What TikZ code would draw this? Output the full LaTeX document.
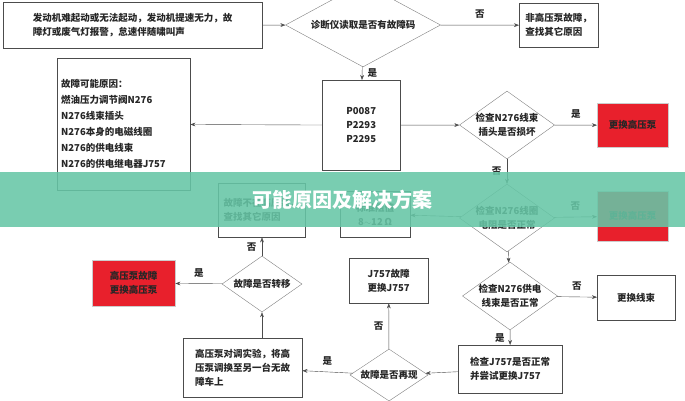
\documentclass[tikz,border=0pt]{standalone}
\usepackage{fontspec}
\setmainfont{Noto Sans CJK SC}
\usetikzlibrary{shapes.geometric,arrows.meta}
\definecolor{alarmred}{RGB}{232,32,44}
\definecolor{banner}{RGB}{102,198,166}
\tikzset{
  every node/.style={font=\fontsize{9.5}{14}\selectfont\bfseries, text=black!85},
  box/.style={draw=black!70, fill=white, align=left, inner sep=3pt},
  redbox/.style={fill=alarmred, align=center, draw=black!20},
  check/.style={diamond, draw=black!50, fill=white, aspect=1.4, inner sep=0pt, align=center},
  flow/.style={draw=black!70, -{Stealth[length=5pt]}},
  tag/.style={font=\fontsize{9.5}{10}\selectfont\bfseries}
}
\begin{document}
\begin{tikzpicture}[x=1pt,y=-1pt]
  \useasboundingbox (0,0) rectangle (685,400);
  % top row
  \node[box, minimum width=259, minimum height=46, anchor=north west] (start) at (3,2)
    {发动机难起动或无法起动，发动机提速无力，故\\障灯或废气灯报警，怠速伴随啸叫声};
  \node[check, minimum width=155, minimum height=46] (read) at (363,25) {诊断仪读取是否有故障码};
  \node[box, minimum width=79, minimum height=44, anchor=north west] (other) at (519,3)
    {非高压泵故障，\\查找其它原因};
  % codes
  \node[box, align=center, minimum width=78, minimum height=90, anchor=north west] (codes) at (322,80)
    {P0087\\P2293\\P2295};
  \node[box, minimum width=133, minimum height=132, anchor=north west, text width=125, inner sep=4pt,
    font=\fontsize{9.5}{16}\selectfont\bfseries] (cause) at (57,58)
    {故障可能原因：\\燃油压力调节阀N276\\N276线束插头\\N276本身的电磁线圈\\N276的供电线束\\N276的供电继电器J757};
  % right column
  \node[check, minimum width=80, minimum height=64] (plug) at (507,125) {检查N276线束\\插头是否损坏};
  \node[redbox, minimum width=71, minimum height=44, anchor=north west] (pump1) at (597,103) {更换高压泵};
  \node[check, minimum width=80, minimum height=64] (coil) at (507,218) {检查N276线圈\\电阻是否正常};
  \node[redbox, minimum width=71, minimum height=50, anchor=north west] (pump2) at (597,191) {更换高压泵};
  \node[box, align=center, minimum width=70, minimum height=46, anchor=north west] (ohm) at (340,191) {标准阻值\\8$\sim$12\,Ω};
  \node[check, minimum width=80, minimum height=68] (wire) at (510,296) {检查N276供电\\线束是否正常};
  \node[box, align=center, minimum width=78, minimum height=45, anchor=north west] (harness) at (597,275) {更换线束};
  \node[box, minimum width=104, minimum height=48, anchor=north west] (relay) at (458,345)
    {检查J757是否正常\\并尝试更换J757};
  % bottom row
  \node[check, minimum width=78, minimum height=52] (again) at (389,375) {故障是否再现};
  \node[box, align=center, minimum width=79, minimum height=45, anchor=north west] (j757) at (349,258) {J757故障\\更换J757};
  \node[box, minimum width=119, minimum height=59, anchor=north west, inner sep=2pt] (swap) at (183,338)
    {高压泵对调实验，将高\\压泵调换至另一台无故\\障车上};
  \node[check, minimum width=80, minimum height=56] (move) at (262,284) {故障是否转移};
  \node[redbox, minimum width=83, minimum height=46, anchor=north west] (pump3) at (92,260) {高压泵故障\\更换高压泵};
  \node[box, minimum width=87, minimum height=54, anchor=north west] (notpump) at (218,183)
    {故障不在高压泵，\\查找其它原因};
  % connectors
  \draw[flow] (start) -- (read);
  \draw[flow] (read) -- node[tag, above=3pt] {否} (other);
  \draw[flow] (read) -- node[tag, right=2pt] {是} (codes);
  \draw[flow] (codes) -- (cause);
  \draw[flow] (codes) -- (plug);
  \draw[flow] (plug) -- node[tag, above=3pt] {是} (pump1);
  \draw[flow] (plug) -- node[tag, left=2pt] {否} (coil);
  \draw[flow] (coil) -- node[tag, above=3pt] {否} (pump2);
  \draw[flow] (coil) -- (ohm);
  \draw[flow] (coil) -- (wire);
  \draw[flow] (wire) -- node[tag, above=3pt] {否} (harness);
  \draw[flow] (wire) -- node[tag, left=2pt] {是} (relay);
  \draw[flow] (relay) -- (again);
  \draw[flow] (again) -- node[tag, left=2pt] {否} (j757);
  \draw[flow] (again) -- node[tag, above=3pt] {是} (swap);
  \draw[flow] (swap.north -| move) -- (move);
  \draw[flow] (move) -- node[tag, above=3pt] {是} (pump3);
  \draw[flow] (move) -- node[tag, left=2pt] {否} (notpump.south -| move);
  % banner
  \fill[banner, opacity=0.88] (0,172) rectangle (685,227);
  \node[font=\fontsize{20}{22}\selectfont\bfseries, text=white] (title) at (342,200) {可能原因及解决方案};
\end{tikzpicture}
\end{document}
